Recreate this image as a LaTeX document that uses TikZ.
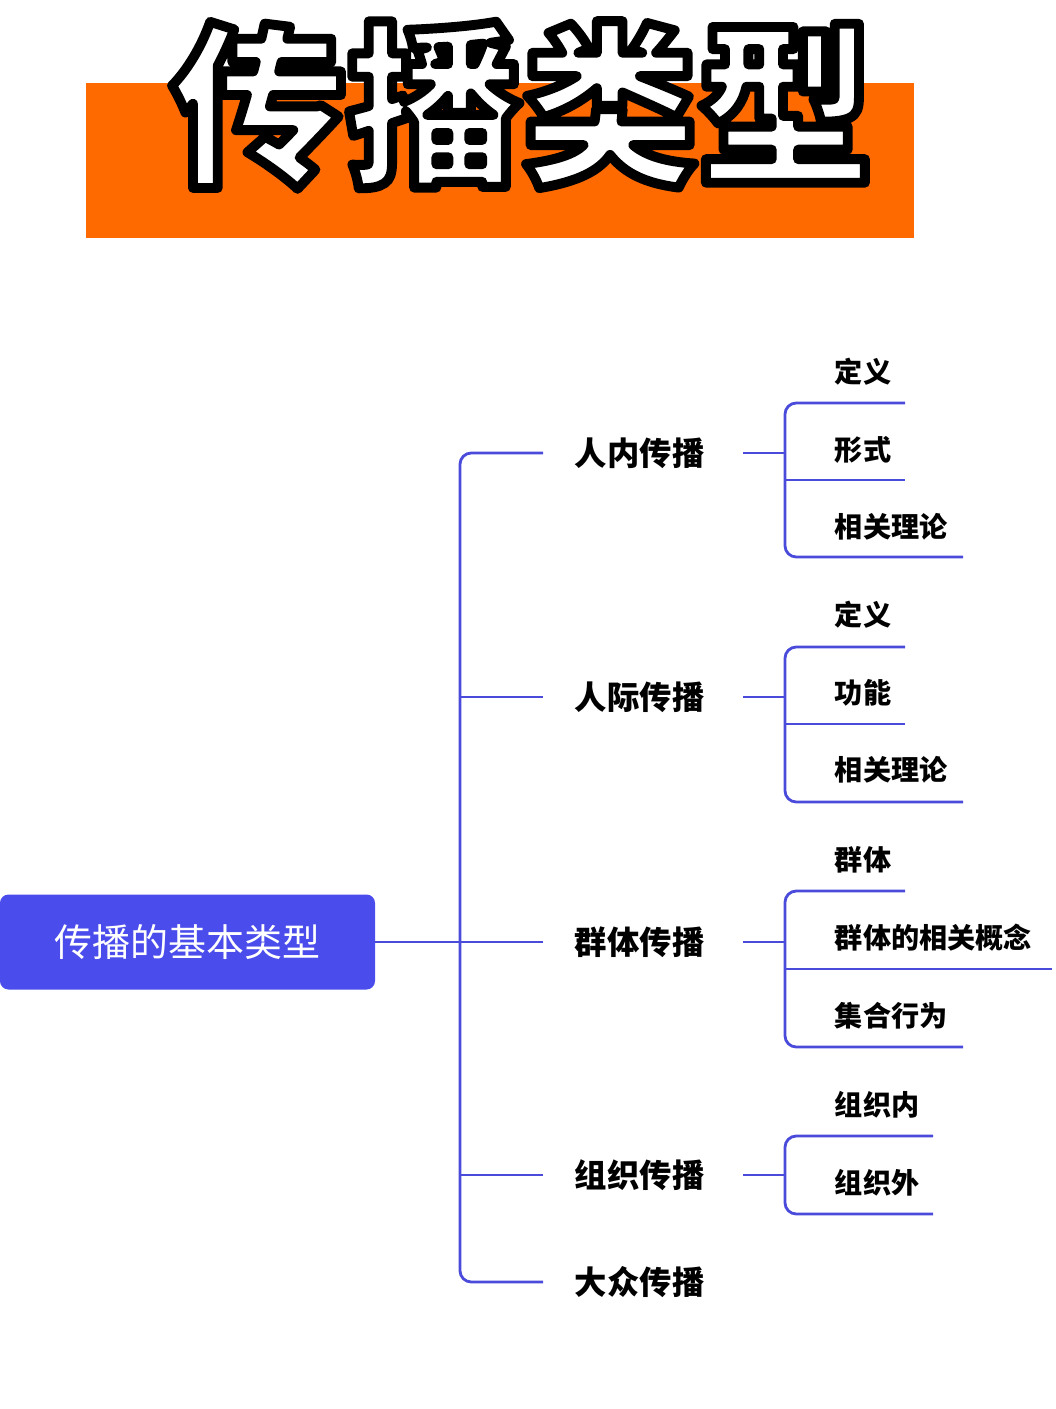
\documentclass[tikz,border=0pt]{standalone}
\usepackage{fontspec}
\usepackage{tikz}
\newfontfamily\cjk{Noto Sans CJK SC}
\definecolor{linkblue}{HTML}{4B4BDB}
\definecolor{rootblue}{HTML}{4A4CEB}
\definecolor{bannerorange}{HTML}{FF6A00}
\newcommand{\outlined}[1]{\special{pdf:literal 2 Tr 7 w 1 j 0 0 0 RG 1 1 1 rg}#1\special{pdf:literal 0 Tr}}
\tikzset{
	lvlone/.style={anchor=west,font=\cjk\bfseries\fontsize{23}{23}\selectfont},
	lvltwo/.style={anchor=west,font=\cjk\bfseries\fontsize{20}{20}\selectfont},
	link/.style={linkblue,line width=2pt,rounded corners=8}
}
\begin{document}
\begin{tikzpicture}[x=0.025cm,y=-0.025cm]
	\useasboundingbox (0,0) rectangle (1056,1409);
	
	% banner
	\fill[bannerorange] (86,83) rectangle (914,238);
	\node (title) [font=\cjk\bfseries\fontsize{125}{125}\selectfont] at (522,105) {\outlined{传播类型}};
	
	% root
	\node (root) [fill=rootblue,rounded corners=6,text=white,minimum width=375*0.025cm,minimum height=95*0.025cm,font=\cjk\fontsize{27}{27}\selectfont] at (187.5,942) {传播的基本类型};
	
	% first level
	\node (a) [lvlone] at (570,453) {人内传播};
	\node (b) [lvlone] at (570,697) {人际传播};
	\node (c) [lvlone] at (570,942) {群体传播};
	\node (d) [lvlone] at (570,1175) {组织传播};
	\node (e) [lvlone] at (570,1282) {大众传播};
	
	\draw[link] (root.east) -- (460,942);
	\draw[link] (543,453) -- (460,453) -- (460,1282) -- (543,1282);
	\foreach \y in {697,942,1175}{
		\draw[link] (460,\y) -- (543,\y);
	}
	
	% second level
	\foreach \c in {453,697,942,1175}{
		\draw[link] (743,\c) -- (785,\c);
	}
	\draw[link] (905,403) -- (785,403) -- (785,557) -- (963,557);
	\draw[link] (785,480) -- (905,480);
	\node (a1) [lvltwo] at (830,372) {定义};
	\node (a2) [lvltwo] at (830,450) {形式};
	\node (a3) [lvltwo] at (830,527) {相关理论};
	
	\draw[link] (905,647) -- (785,647) -- (785,802) -- (963,802);
	\draw[link] (785,724) -- (905,724);
	\node (b1) [lvltwo] at (830,615) {定义};
	\node (b2) [lvltwo] at (830,693) {功能};
	\node (b3) [lvltwo] at (830,770) {相关理论};
	
	\draw[link] (905,891) -- (785,891) -- (785,1047) -- (963,1047);
	\draw[link] (785,969) -- (1052,969);
	\node (c1) [lvltwo] at (830,860) {群体};
	\node (c2) [lvltwo] at (830,938) {群体的相关概念};
	\node (c3) [lvltwo] at (830,1016) {集合行为};
	
	\draw[link] (933,1136) -- (785,1136) -- (785,1214) -- (933,1214);
	\node (d1) [lvltwo] at (830,1105) {组织内};
	\node (d2) [lvltwo] at (830,1183) {组织外};
\end{tikzpicture}
\end{document}
